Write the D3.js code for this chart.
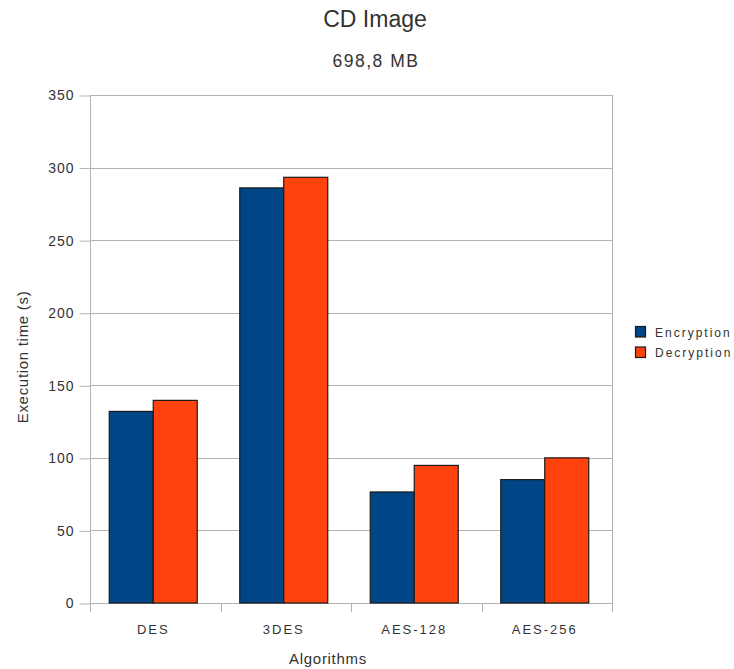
<!DOCTYPE html>
<html>
<head>
<meta charset="utf-8">
<script src="https://cdn.jsdelivr.net/npm/d3@7/dist/d3.min.js"></script>
<style>
  html, body { margin: 0; padding: 0; background: #fff; }
  svg { display: block; font-family: "Liberation Sans", Arial, sans-serif; }
</style>
</head>
<body>
<svg id="chart" width="734" height="669"></svg>
<script>
// Execution time per algorithm, in seconds
const algorithms = ["DES", "3DES", "AES-128", "AES-256"];
const seriesNames = ["Encryption", "Decryption"];
const encryption = [132, 286, 76.5, 85];
const decryption = [139.6, 293.3, 94.8, 100];
const yTicks = [0, 50, 100, 150, 200, 250, 300, 350];
const colors = ["#004586", "#ff420e"];

const svg = d3.select("#chart");
const plot = { left: 90, right: 612, top: 95, bottom: 603 };

const x0 = d3.scaleBand().domain(algorithms).range([plot.left, plot.right]).padding(0);
const x1 = d3.scaleBand().domain(seriesNames)
  .range([-2, x0.bandwidth() - 2]).paddingInner(0).paddingOuter(0.483);
const y = d3.scaleLinear().domain([0, 350]).range([plot.bottom, plot.top]);

// Horizontal gridlines
svg.append("g")
  .selectAll("line")
  .data(yTicks)
  .join("line")
  .attr("x1", plot.left).attr("x2", plot.right)
  .attr("y1", d => Math.round(y(d)) + 0.5).attr("y2", d => Math.round(y(d)) + 0.5)
  .attr("stroke", "#b3b3b3").attr("stroke-width", 1);

// Right border of plot
svg.append("line")
  .attr("x1", plot.right + 0.5).attr("x2", plot.right + 0.5)
  .attr("y1", plot.top).attr("y2", plot.bottom + 0.5)
  .attr("stroke", "#b3b3b3");

// Y axis
const yAxis = d3.axisLeft(y).tickValues(yTicks).tickSize(11).tickPadding(5);
const gy = svg.append("g")
  .attr("transform", `translate(${plot.left + 0.5},0.5)`)
  .call(yAxis);
gy.select(".domain").attr("stroke", "#b3b3b3").attr("d", `M0,${plot.top}V${plot.bottom}`);
gy.selectAll(".tick line").attr("stroke", "#b3b3b3");
gy.selectAll(".tick text")
  .attr("fill", "#333").attr("font-size", 14)
  .attr("font-family", "Liberation Sans, Arial, sans-serif")
  .style("letter-spacing", "1px");

// X axis
const xAxis = d3.axisBottom(x0).tickSize(0).tickPadding(0);
const gx = svg.append("g")
  .attr("transform", `translate(0,${plot.bottom + 0.5})`)
  .call(xAxis);
gx.select(".domain").attr("stroke", "#b3b3b3").attr("d", `M${plot.left},0H${plot.right}`);
gx.selectAll(".tick text")
  .attr("fill", "#333").attr("font-size", 13).attr("dy", 0).attr("y", 30)
  .attr("dx", -2)
  .attr("font-family", "Liberation Sans, Arial, sans-serif")
  .style("letter-spacing", "2px");
gx.selectAll(".tick line").remove();

// Category boundary ticks below the axis
const bounds = algorithms.map(a => x0(a)).concat([plot.right]);
svg.append("g")
  .selectAll("line")
  .data(bounds)
  .join("line")
  .attr("x1", d => Math.round(d) + 0.5).attr("x2", d => Math.round(d) + 0.5)
  .attr("y1", plot.bottom).attr("y2", plot.bottom + 9)
  .attr("stroke", "#b3b3b3");

// Bars
const rows = algorithms.map((a, i) => ({ a, vals: [encryption[i], decryption[i]] }));
svg.append("g")
  .selectAll("g")
  .data(rows)
  .join("g")
  .attr("transform", d => `translate(${x0(d.a)},0)`)
  .selectAll("rect")
  .data(d => d.vals.map((v, j) => ({ key: seriesNames[j], v, j })))
  .join("rect")
  .attr("x", d => x1(d.key))
  .attr("y", d => y(d.v))
  .attr("width", x1.bandwidth())
  .attr("height", d => y(0) - y(d.v))
  .attr("fill", d => colors[d.j])
  .attr("stroke", "#1a1a1a")
  .attr("stroke-width", 1.2);

// Titles
svg.append("text")
  .attr("x", 375).attr("y", 27).attr("text-anchor", "middle")
  .attr("font-size", 23).attr("fill", "#333")
  .text("CD Image");
svg.append("text")
  .attr("x", 376).attr("y", 67).attr("text-anchor", "middle")
  .attr("font-size", 17.5).attr("fill", "#333")
  .style("letter-spacing", "1.5px")
  .text("698,8 MB");

// Axis titles
svg.append("text")
  .attr("x", 328).attr("y", 664).attr("text-anchor", "middle")
  .attr("font-size", 15).attr("fill", "#333")
  .style("letter-spacing", "0.7px")
  .text("Algorithms");
svg.append("text")
  .attr("transform", "translate(28,357) rotate(-90)")
  .attr("text-anchor", "middle")
  .attr("font-size", 15).attr("fill", "#333")
  .style("letter-spacing", "0.7px")
  .text("Execution time (s)");

// Legend
const legend = svg.append("g");
seriesNames.forEach((name, i) => {
  legend.append("rect")
    .attr("x", 635.5).attr("y", 326.5 + i * 20.5)
    .attr("width", 10).attr("height", 10.5)
    .attr("fill", colors[i]).attr("stroke", "#1a1a1a").attr("stroke-width", 1.2);
  legend.append("text")
    .attr("x", 655).attr("y", 336.5 + i * 20.5)
    .attr("font-size", 12).attr("fill", "#333")
    .style("letter-spacing", "2px")
    .text(name);
});
</script>
</body>
</html>
